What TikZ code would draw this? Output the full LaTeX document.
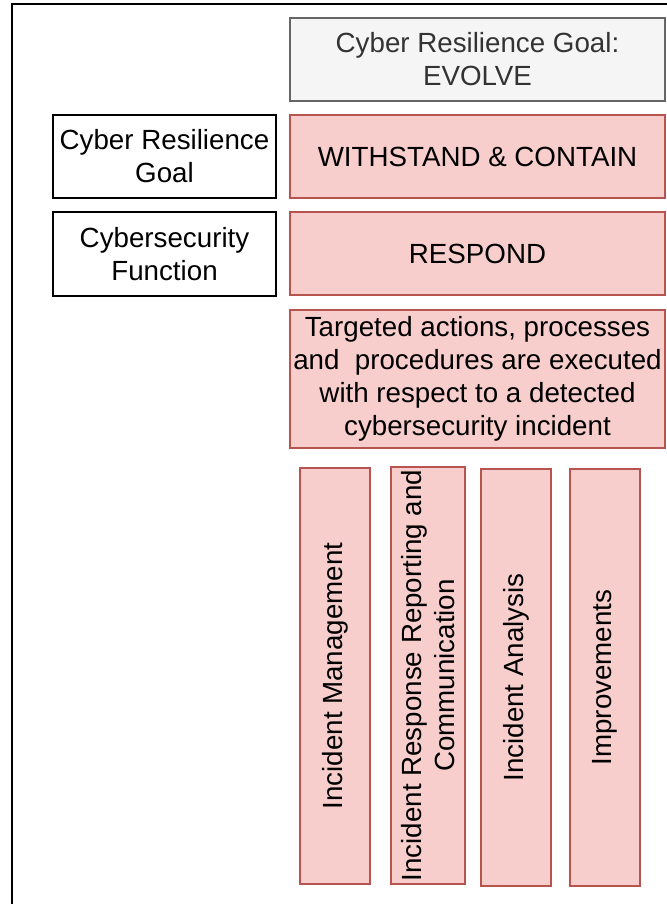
\documentclass[tikz,border=0pt]{standalone}
\usepackage{fontspec}
\setmainfont{Liberation Sans}
\definecolor{redfill}{RGB}{248,206,204}
\definecolor{redline}{RGB}{184,84,80}
\definecolor{greyfill}{RGB}{245,245,245}
\definecolor{greyline}{RGB}{102,102,102}
\definecolor{greytext}{RGB}{51,51,51}
\usepackage{tikz}
\tikzset{every picture/.style={line width=1.1pt}}
\tikzset{
  redbox/.style={draw=redline, fill=redfill, inner sep=0pt, align=center,
    font=\fontsize{20.8}{24.8}\selectfont},
  greybox/.style={draw=greyline, fill=greyfill, text=greytext, inner sep=0pt, align=center,
    font=\fontsize{20.8}{24.8}\selectfont},
  namebox/.style={draw=black, fill=white, inner sep=0pt, align=center,
    font=\fontsize{20.8}{24.8}\selectfont},
  upbox/.style={redbox, rotate=90}
}

\begin{document}
\begin{tikzpicture}[x=0.75pt,y=0.75pt,yscale=-1,xscale=1]
\useasboundingbox (0,0) rectangle (667,904);

%Frame
\draw [line width=1.5pt] (12,904) -- (12,4) -- (667,4) ;

%Shape: Rectangle [goal]
\node [greybox, minimum width=281.25pt, minimum height=62.25pt] (evolve) at (477.5,59.5) {Cyber Resilience Goal:\\EVOLVE};
%Shape: Rectangle
\node [redbox, minimum width=281.25pt, minimum height=62.25pt] (withstand) at (477.5,156.5) {WITHSTAND \& CONTAIN};
%Shape: Rectangle
\node [redbox, minimum width=281.25pt, minimum height=62.25pt] (respond) at (477.5,253.5) {RESPOND};
%Shape: Rectangle
\node [redbox, minimum width=281.25pt, minimum height=103.5pt] (desc) at (477.5,379) {Targeted actions, processes\\and\ \ procedures are executed\\with respect to a detected\\cybersecurity incident};

%Shape: Rectangle [row names]
\node [namebox, minimum width=167.25pt, minimum height=62.25pt] (goal) at (164.5,156.5) {Cyber Resilience\\Goal};
\node [namebox, minimum width=167.25pt, minimum height=63pt] (func) at (164.5,254) {Cybersecurity\\Function};

%Shape: Rectangle [categories]
\node [upbox, minimum width=312pt, minimum height=52.5pt] (mgmt) at (335,676) {Incident Management};
\node [upbox, minimum width=312.75pt, minimum height=55.5pt] (report) at (428,675.5) {Incident Response Reporting and\\Communication};
\node [upbox, minimum width=312.75pt, minimum height=52.5pt] (analysis) at (516,677.5) {Incident Analysis};
\node [upbox, minimum width=312.75pt, minimum height=52.5pt] (improve) at (605,677.5) {Improvements};

\end{tikzpicture}
\end{document}
